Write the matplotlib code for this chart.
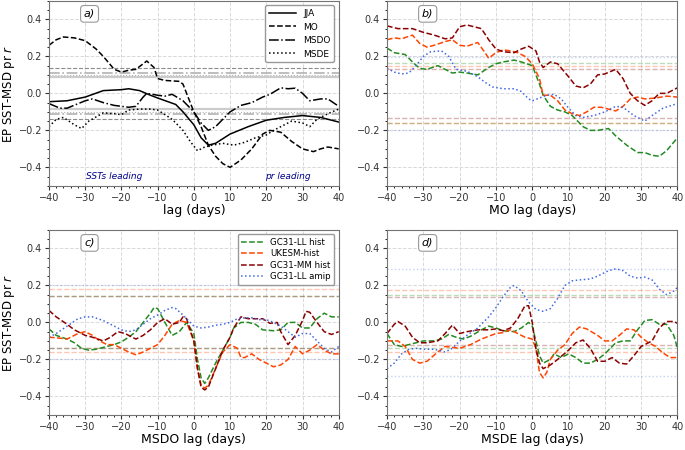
import matplotlib
matplotlib.use('Agg')
import matplotlib.pyplot as plt
from matplotlib.ticker import MultipleLocator

# ---- panel a: observed lag correlations ----
jja_lag = [-40, -35, -30, -25, -20, -18, -15, -12, -10, -5, -3, 0, 2, 4, 6, 10, 15, 20, 25, 30, 35, 40]
jja_r = [-0.045, -0.04, -0.02, 0.015, 0.02, 0.025, 0.015, -0.01, -0.025, -0.06, -0.1, -0.17, -0.24, -0.28,
         -0.27, -0.22, -0.18, -0.145, -0.13, -0.12, -0.13, -0.155]
mo_lag = [-40, -38, -36, -33, -30, -27, -25, -22, -20, -18, -16, -13, -11, -10, -8, -4, -3, 0, 2, 4, 6, 8, 10,
          13, 16, 19, 21, 24, 27, 30, 33, 35, 37, 40]
mo_r = [0.26, 0.29, 0.305, 0.3, 0.285, 0.24, 0.2, 0.13, 0.115, 0.125, 0.13, 0.175, 0.14, 0.08, 0.07, 0.065,
        0.05, -0.1, -0.18, -0.28, -0.34, -0.38, -0.4, -0.36, -0.3, -0.22, -0.2, -0.21, -0.26, -0.3, -0.315,
        -0.3, -0.29, -0.3]
msdo_lag = [-40, -37, -35, -30, -28, -25, -22, -18, -16, -14, -13, -10, -8, -6, -3, 0, 2, 4, 6, 8, 10, 13, 16,
            19, 21, 24, 26, 28, 30, 32, 35, 37, 40]
msdo_r = [-0.055, -0.08, -0.08, -0.04, -0.03, -0.05, -0.065, -0.075, -0.07, -0.02, 0.0, -0.01, -0.015, -0.005,
          -0.04, -0.1, -0.16, -0.2, -0.18, -0.14, -0.1, -0.065, -0.05, -0.02, -0.005, 0.03, 0.025, 0.028, 0.0,
          -0.04, -0.03, -0.03, -0.07]
msde_lag = [-40, -38, -36, -33, -31, -29, -25, -22, -20, -18, -15, -12, -10, -6, -3, -1, 1, 3, 5, 8, 11, 14, 17,
            20, 22, 25, 27, 30, 32, 34, 37, 40]
msde_r = [-0.18, -0.14, -0.13, -0.17, -0.19, -0.15, -0.105, -0.11, -0.115, -0.09, -0.085, -0.085, -0.09, -0.14,
          -0.2, -0.26, -0.31, -0.29, -0.28, -0.27, -0.28, -0.265, -0.24, -0.225, -0.2, -0.17, -0.15, -0.16,
          -0.18, -0.14, -0.11, -0.085]
obs_sig_up = [0.087, 0.135, 0.11, 0.1]
obs_sig_dn = [-0.087, -0.137, -0.112, -0.1]

# ---- panel b: MO lag ----
b_ll_lag = [-40, -38, -35, -33, -31, -29, -26, -24, -22, -20, -18, -15, -12, -10, -8, -5, -3, 0, 2, 3, 5, 7, 9,
            11, 14, 16, 18, 21, 23, 26, 29, 31, 33, 35, 37, 40]
b_ll = [0.245, 0.22, 0.21, 0.17, 0.135, 0.13, 0.15, 0.13, 0.11, 0.115, 0.11, 0.1, 0.14, 0.16, 0.17, 0.18, 0.17,
        0.15, 0.05, -0.01, -0.07, -0.09, -0.1, -0.12, -0.18, -0.2, -0.2, -0.19, -0.23, -0.28, -0.32, -0.32,
        -0.335, -0.34, -0.31, -0.24]
b_uk_lag = [-40, -38, -36, -33, -31, -29, -27, -24, -22, -20, -18, -15, -13, -12, -10, -8, -6, -4, -2, 0, 2, 3,
            5, 7, 9, 11, 13, 15, 17, 19, 21, 23, 25, 27, 29, 31, 34, 37, 40]
b_uk = [0.29, 0.3, 0.295, 0.315, 0.27, 0.25, 0.26, 0.28, 0.29, 0.26, 0.255, 0.275, 0.22, 0.19, 0.22, 0.235,
        0.23, 0.22, 0.2, 0.16, 0.08, -0.01, -0.01, -0.04, -0.09, -0.11, -0.12, -0.1, -0.075, -0.075, -0.085,
        -0.095, -0.07, -0.03, -0.02, -0.03, -0.025, -0.015, -0.02]
b_mm_lag = [-40, -37, -33, -30, -27, -24, -22, -20, -18, -16, -14, -12, -10, -8, -5, -3, -1, 1, 2, 3, 5, 7, 10,
            12, 14, 16, 18, 20, 23, 25, 27, 29, 31, 33, 35, 37, 39, 40]
b_mm = [0.365, 0.35, 0.35, 0.33, 0.315, 0.295, 0.3, 0.36, 0.37, 0.36, 0.35, 0.29, 0.24, 0.225, 0.22, 0.24,
        0.255, 0.23, 0.17, 0.14, 0.17, 0.16, 0.09, 0.04, 0.03, 0.05, 0.1, 0.105, 0.13, 0.08, 0.0, -0.04, -0.065,
        -0.04, 0.0, 0.0, 0.02, 0.03]
b_am_lag = [-40, -38, -36, -34, -32, -30, -28, -25, -23, -21, -18, -15, -13, -11, -8, -5, -3, -1, 0, 2, 4, 6, 8,
            10, 12, 14, 17, 20, 23, 25, 28, 31, 33, 36, 40]
b_am = [0.135, 0.115, 0.105, 0.11, 0.15, 0.2, 0.225, 0.23, 0.2, 0.13, 0.12, 0.09, 0.06, 0.035, 0.025, 0.025,
        0.01, -0.03, -0.04, -0.025, -0.01, -0.005, -0.03, -0.08, -0.12, -0.13, -0.12, -0.1, -0.07, -0.075,
        -0.12, -0.15, -0.12, -0.08, -0.055]
b_sig_up = [0.162, 0.148, 0.132, 0.197]
b_sig_dn = [-0.158, -0.16, -0.133, -0.2]

# ---- panel c: MSDO lag ----
c_ll_lag = [-40, -38, -35, -33, -31, -29, -27, -24, -22, -20, -18, -16, -14, -12, -11, -10, -8, -6, -4, -2, 0,
            1, 2, 3, 4, 6, 8, 10, 11, 13, 15, 17, 19, 22, 24, 26, 28, 30, 32, 34, 36, 38, 40]
c_ll = [-0.035, -0.07, -0.09, -0.11, -0.14, -0.15, -0.145, -0.13, -0.12, -0.105, -0.08, -0.05, 0.0, 0.05, 0.08,
        0.075, 0.0, -0.07, -0.05, 0.0, -0.06, -0.2, -0.3, -0.33, -0.3, -0.22, -0.15, -0.08, -0.03, 0.0, 0.0,
        -0.01, -0.04, -0.045, -0.04, 0.0, 0.0, -0.03, -0.03, 0.02, 0.05, 0.03, 0.03]
c_uk_lag = [-40, -37, -35, -32, -30, -28, -26, -24, -22, -20, -18, -16, -14, -12, -10, -8, -6, -4, -2, 0, 1, 2,
            3, 4, 6, 8, 10, 12, 13, 14, 16, 18, 20, 22, 24, 26, 28, 30, 32, 34, 36, 38, 40]
c_uk = [-0.08, -0.085, -0.09, -0.06, -0.05, -0.07, -0.1, -0.12, -0.12, -0.14, -0.16, -0.175, -0.16, -0.14,
        -0.12, -0.07, -0.01, 0.01, 0.0, -0.1, -0.25, -0.34, -0.355, -0.34, -0.25, -0.16, -0.12, -0.14, -0.19,
        -0.19, -0.17, -0.2, -0.22, -0.24, -0.23, -0.2, -0.13, -0.17, -0.15, -0.12, -0.15, -0.17, -0.17]
c_mm_lag = [-40, -38, -35, -33, -30, -28, -25, -23, -21, -19, -17, -16, -14, -12, -10, -8, -6, -4, -3, -2, 0, 1,
            2, 3, 4, 6, 8, 10, 11, 13, 15, 17, 19, 21, 23, 24, 26, 28, 30, 31, 32, 34, 36, 38, 40]
c_mm = [0.065, 0.03, -0.01, -0.04, -0.07, -0.08, -0.1, -0.08, -0.05, -0.06, -0.08, -0.09, -0.07, -0.04, 0.0,
        0.02, -0.01, 0.0, 0.03, 0.02, -0.1, -0.25, -0.35, -0.365, -0.35, -0.25, -0.15, -0.08, -0.03, 0.03, 0.02,
        0.02, 0.02, -0.005, 0.0, -0.05, -0.12, -0.07, 0.01, 0.06, 0.055, 0.0, -0.05, -0.065, -0.05]
c_am_lag = [-40, -38, -35, -32, -30, -28, -25, -22, -20, -18, -16, -14, -12, -10, -8, -6, -5, -3, -1, 0, 2, 4, 6,
            8, 10, 12, 14, 16, 18, 20, 22, 24, 26, 28, 30, 32, 34, 36, 38, 40]
c_am = [-0.08, -0.06, -0.02, 0.02, 0.03, 0.03, 0.01, -0.02, -0.04, -0.05, -0.04, -0.01, 0.02, 0.04, 0.065,
        0.08, 0.075, 0.04, 0.0, -0.02, -0.03, -0.025, -0.015, -0.01, 0.0, 0.02, 0.025, 0.025, 0.015, 0.015, 0.0,
        -0.02, -0.05, -0.08, -0.06, -0.06, -0.1, -0.14, -0.16, -0.13]
c_sig_up = [0.145, 0.18, 0.145, 0.203]
c_sig_dn = [-0.14, -0.16, -0.14, -0.2]

# ---- panel d: MSDE lag ----
d_ll_lag = [-40, -38, -36, -33, -30, -27, -25, -23, -21, -19, -17, -14, -12, -10, -8, -5, -3, -1, 0, 1, 2, 3, 5,
            6, 8, 10, 12, 14, 16, 18, 20, 23, 25, 27, 29, 31, 33, 35, 37, 39, 40]
d_ll = [-0.06, -0.12, -0.13, -0.115, -0.1, -0.1, -0.09, -0.065, -0.08, -0.09, -0.075, -0.04, -0.02, -0.03,
        -0.045, -0.05, -0.03, 0.0, -0.02, -0.1, -0.18, -0.22, -0.2, -0.17, -0.19, -0.17, -0.19, -0.22, -0.22,
        -0.2, -0.17, -0.11, -0.1, -0.1, -0.04, 0.01, 0.015, -0.01, -0.01, -0.07, -0.14]
d_uk_lag = [-40, -37, -35, -33, -31, -29, -26, -24, -22, -20, -17, -14, -12, -10, -8, -6, -4, -2, 0, 1, 2, 3, 4,
            5, 7, 9, 11, 13, 15, 18, 20, 22, 24, 26, 28, 30, 32, 34, 36, 38, 40]
d_uk = [-0.1, -0.1, -0.13, -0.2, -0.22, -0.21, -0.16, -0.13, -0.135, -0.14, -0.12, -0.09, -0.075, -0.06,
        -0.055, -0.04, -0.06, -0.08, -0.09, -0.14, -0.27, -0.3, -0.27, -0.2, -0.15, -0.12, -0.06, -0.025,
        -0.035, -0.07, -0.1, -0.1, -0.07, -0.035, -0.04, -0.08, -0.11, -0.13, -0.165, -0.19, -0.19]
d_mm_lag = [-40, -38, -37, -35, -33, -31, -29, -26, -24, -22, -20, -18, -15, -12, -10, -8, -6, -4, -2, -1, 0, 1,
            2, 3, 5, 7, 10, 12, 14, 16, 18, 20, 22, 24, 26, 28, 30, 33, 35, 37, 39, 40]
d_mm = [-0.06, -0.01, 0.005, -0.02, -0.08, -0.11, -0.11, -0.1, -0.06, -0.015, -0.06, -0.05, -0.04, -0.04,
        -0.035, -0.045, -0.03, 0.02, 0.09, 0.09, 0.0, -0.14, -0.22, -0.25, -0.23, -0.2, -0.15, -0.11, -0.095,
        -0.14, -0.21, -0.21, -0.19, -0.22, -0.225, -0.18, -0.13, -0.1, -0.03, 0.005, 0.005, -0.005]
d_am_lag = [-40, -38, -36, -34, -32, -30, -27, -24, -22, -20, -18, -15, -12, -10, -8, -6, -5, -3, -1, 1, 3, 5, 7,
            9, 11, 13, 16, 18, 21, 23, 25, 27, 29, 31, 33, 35, 37, 39, 40]
d_am = [-0.25, -0.22, -0.17, -0.145, -0.14, -0.145, -0.145, -0.16, -0.14, -0.1, -0.07, -0.03, 0.03, 0.08,
        0.14, 0.19, 0.2, 0.17, 0.11, 0.07, 0.06, 0.075, 0.13, 0.2, 0.225, 0.23, 0.235, 0.25, 0.28, 0.29, 0.28,
        0.25, 0.24, 0.245, 0.23, 0.18, 0.15, 0.17, 0.19]
d_sig_up = [0.15, 0.175, 0.14, 0.29]
d_sig_dn = [-0.14, -0.16, -0.12, -0.29]

obs_names = ['JJA', 'MO', 'MSDO', 'MSDE']
model_names = ['GC31-LL hist', 'UKESM-hist', 'GC31-MM hist', 'GC31-LL amip']
model_colors = ['forestgreen', 'orangered', 'darkred', 'royalblue']
model_ls = ['--', '--', '--', ':']
xlabels = ['lag (days)', 'MO lag (days)', 'MSDO lag (days)', 'MSDE lag (days)']
panel_tags = ['a)', 'b)', 'c)', 'd)']

fig = plt.figure(figsize=(6.85, 4.5), dpi=100)
ax_a = fig.add_axes([0.0715, 0.587, 0.423, 0.411])
ax_b = fig.add_axes([0.565, 0.587, 0.424, 0.411])
ax_c = fig.add_axes([0.0715, 0.078, 0.423, 0.411])
ax_d = fig.add_axes([0.565, 0.078, 0.424, 0.411])
axes = [ax_a, ax_b, ax_c, ax_d]

# observed significance lines (gray)
obs_sig_style = [dict(ls='-', lw=1.6, color='0.8'), dict(ls='--', lw=0.8, color='0.55'),
                 dict(ls='-.', lw=1.2, color='0.7'), dict(ls=':', lw=0.8, color='0.7')]
for up, dn, st in zip(obs_sig_up, obs_sig_dn, obs_sig_style):
    ax_a.axhline(up, **st)
    ax_a.axhline(dn, **st)

obs = [(jja_lag, jja_r, '-'), (mo_lag, mo_r, '--'), (msdo_lag, msdo_r, '-.'), (msde_lag, msde_r, ':')]
for (lg, r, ls), name in zip(obs, obs_names):
    ax_a.plot(lg, r, ls=ls, color='k', lw=1.1, label=name)

model_data = [
    (ax_b, [(b_ll_lag, b_ll), (b_uk_lag, b_uk), (b_mm_lag, b_mm), (b_am_lag, b_am)], b_sig_up, b_sig_dn),
    (ax_c, [(c_ll_lag, c_ll), (c_uk_lag, c_uk), (c_mm_lag, c_mm), (c_am_lag, c_am)], c_sig_up, c_sig_dn),
    (ax_d, [(d_ll_lag, d_ll), (d_uk_lag, d_uk), (d_mm_lag, d_mm), (d_am_lag, d_am)], d_sig_up, d_sig_dn),
]
for ax, series, sig_up, sig_dn in model_data:
    for up, dn, col, ls in zip(sig_up, sig_dn, model_colors, model_ls):
        ax.axhline(up, ls=ls, color=col, lw=1.0, alpha=0.3)
        ax.axhline(dn, ls=ls, color=col, lw=1.0, alpha=0.3)
    for (lg, r), col, ls, name in zip(series, model_colors, model_ls, model_names):
        ax.plot(lg, r, ls=ls, color=col, lw=1.1, label=name)

for ax, xl, tag in zip(axes, xlabels, panel_tags):
    ax.set_xlim(-40, 40)
    ax.set_ylim(-0.5, 0.5)
    ax.xaxis.set_major_locator(MultipleLocator(10))
    ax.xaxis.set_minor_locator(MultipleLocator(2))
    ax.yaxis.set_major_locator(MultipleLocator(0.2))
    ax.yaxis.set_minor_locator(MultipleLocator(0.05))
    ax.grid(True, ls='--', color='0.85', lw=0.7)
    ax.set_axisbelow(True)
    ax.tick_params(labelsize=7, colors='0.2', length=3, pad=2)
    ax.tick_params(which='minor', length=1.5)
    for sp in ax.spines.values():
        sp.set_color('0.45')
    ax.set_xlabel(xl, fontsize=9, labelpad=1)
    ax.text(0.14, 0.93, tag, transform=ax.transAxes, fontsize=8, style='italic', ha='center', va='center',
            bbox=dict(boxstyle='round,pad=0.3', fc='white', ec='0.6', lw=0.8))

for ax in [ax_a, ax_c]:
    ax.set_ylabel('EP SST-MSD pr $r$', fontsize=8.5, labelpad=1)

ax_a.text(-22, -0.45, 'SSTs leading', color='darkblue', style='italic', fontsize=6.5, ha='center', va='center')
ax_a.text(26, -0.45, 'pr leading', color='darkblue', style='italic', fontsize=6.5, ha='center', va='center')

ax_a.legend(loc='upper right', fontsize=6.5, handlelength=3, framealpha=1, edgecolor='0.6', labelspacing=0.5)
ax_c.legend(loc='upper right', fontsize=6.2, handlelength=2.6, framealpha=1, edgecolor='0.6', labelspacing=0.3)

fig.savefig('out.png', dpi=100)
